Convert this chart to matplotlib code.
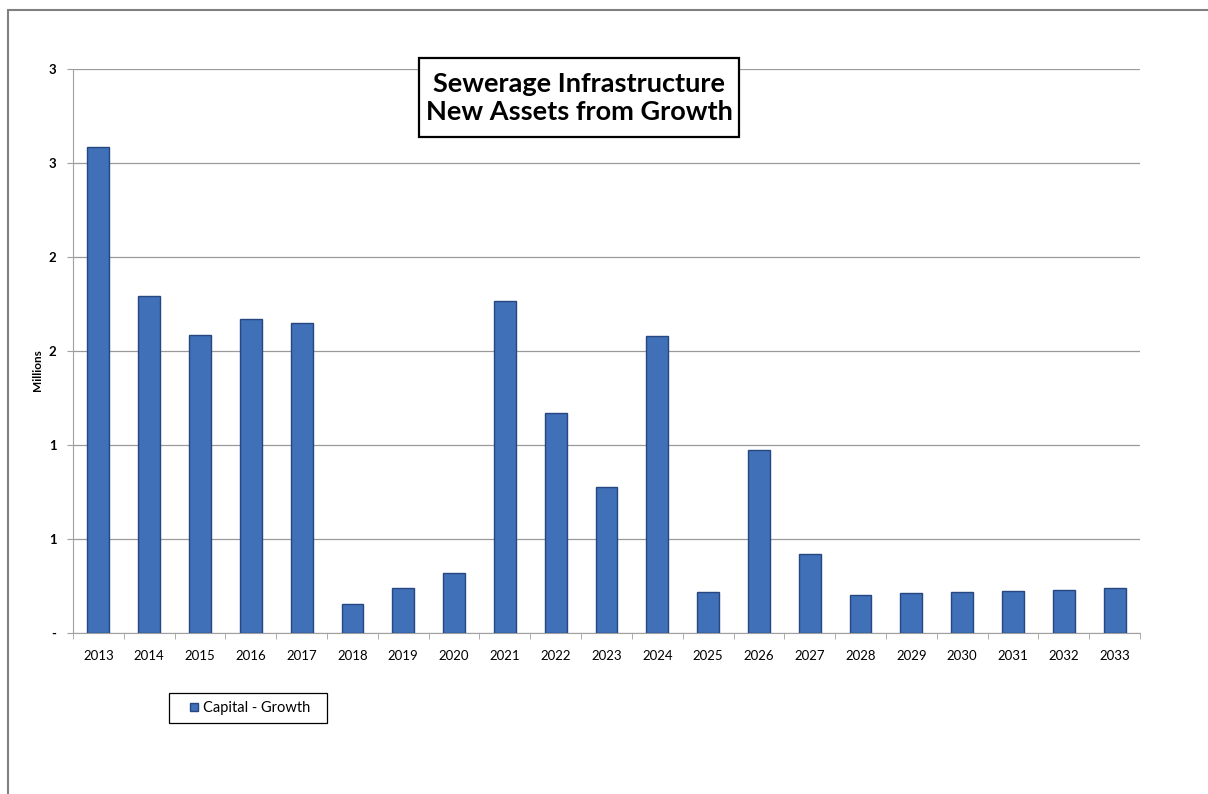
import matplotlib.pyplot as plt
from matplotlib.patches import Rectangle
from matplotlib.lines import Line2D

years = [str(y) for y in range(2013, 2034)]
capital_growth = [2.585, 1.793, 1.585, 1.670, 1.649, 0.154, 0.239, 0.319,
                  1.766, 1.170, 0.777, 1.580, 0.218, 0.973, 0.420, 0.202,
                  0.213, 0.218, 0.223, 0.229, 0.239]
y_ticks = [0, 0.5, 1.0, 1.5, 2.0, 2.5, 3.0]
y_tick_labels = ["-", "1", "1", "2", "2", "3", "3"]

plt.rcParams['font.family'] = ['Lato', 'DejaVu Sans']

fig = plt.figure(figsize=(12.08, 7.94), dpi=100)
W, H = 1208, 794
ax = fig.add_axes([73 / W, 1 - 633 / H, (1140 - 73) / W, (633 - 69) / H])

# outer frame of the pasted chart (top and left edges visible)
fig.patches.append(Rectangle((8 / W, -0.01), 1.2, 1 - 10 / H + 0.01,
                             transform=fig.transFigure, fill=False,
                             edgecolor='#808080', linewidth=1.5))

x = range(len(years))
ax.bar(x, capital_growth, width=0.43, color='#3F70B8',
       edgecolor='#26477F', linewidth=1.0, zorder=3)

ax.set_xlim(-0.5, len(years) - 0.5)
ax.set_ylim(0, 3.0)
ax.set_yticks(y_ticks)
ax.set_yticklabels(y_tick_labels, fontsize=9.5, fontweight='bold')
ax.set_xticks(list(x))
ax.set_xticklabels(years, fontsize=9.5)
ax.set_xticks([i + 0.5 for i in range(-1, len(years))], minor=True)
ax.tick_params(axis='x', which='major', length=0, pad=12)
ax.tick_params(axis='x', which='minor', length=4, color='#a0a0a0')
ax.tick_params(axis='y', length=4, color='#a0a0a0', pad=8)

ax.grid(True, axis='y', color='#9a9a9a', linewidth=0.9, zorder=0)
ax.spines['top'].set_visible(False)
ax.spines['right'].set_visible(False)
ax.spines['left'].set_color('#a0a0a0')
ax.spines['bottom'].set_color('#a0a0a0')

fig.text(37 / W, 1 - 370 / H, "Millions", rotation=90, fontsize=8.5,
         fontweight='bold', ha='center', va='center')

# title box
fig.patches.append(Rectangle((419 / W, 1 - 137 / H), 320 / W, 79 / H,
                             transform=fig.transFigure, facecolor='white',
                             edgecolor='black', linewidth=1.6, zorder=5))
fig.text(579 / W, 1 - 98 / H, "Sewerage Infrastructure\nNew Assets from Growth",
         ha='center', va='center', fontsize=19.5, fontweight='bold',
         linespacing=1.25, zorder=6)

# legend with its own wider frame
fig.patches.append(Rectangle((169 / W, 1 - 723 / H), 158 / W, 30 / H,
                             transform=fig.transFigure, facecolor='white',
                             edgecolor='black', linewidth=0.9))
handle = Line2D([], [], marker='s', linestyle='none', markersize=5.5,
                markerfacecolor='#3F70B8', markeredgecolor='#26477F')
fig.legend([handle], ["Capital - Growth"], loc='center',
           bbox_to_anchor=(250 / W, 1 - 708 / H), fontsize=10.5,
           frameon=False, handlelength=0.6, handletextpad=0.3,
           borderpad=0.2, borderaxespad=0)

fig.savefig("out.png", dpi=100)
